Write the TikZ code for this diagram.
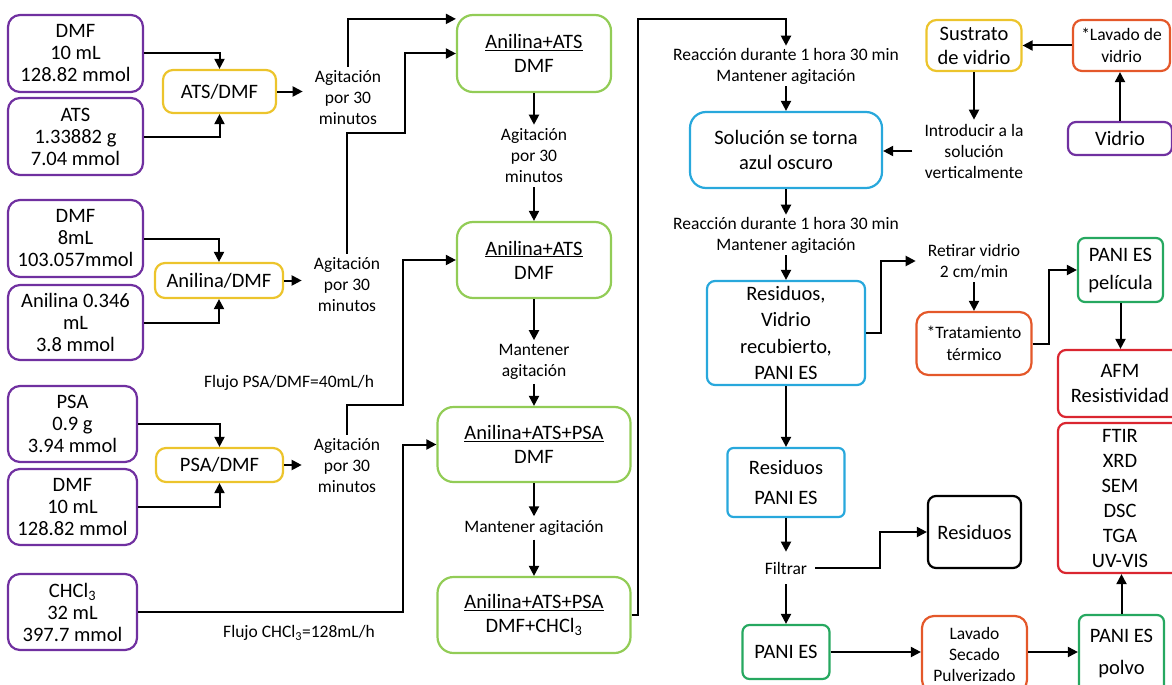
\documentclass[tikz,border=0pt]{standalone}
\usepackage{fontspec}
\setmainfont{Carlito}
\usepackage{xcolor}
\usepackage{tikz}
\usetikzlibrary{arrows.meta}

\definecolor{matviolet}{RGB}{112,48,160}
\definecolor{mixyellow}{RGB}{236,196,44}
\definecolor{mixgreen}{RGB}{146,204,86}
\definecolor{solblue}{RGB}{40,168,220}
\definecolor{procorange}{RGB}{228,88,42}
\definecolor{charred}{RGB}{218,38,48}
\definecolor{panigreen}{RGB}{38,168,96}

\begin{document}
\begin{tikzpicture}[x=1pt, y=-1pt,
font=\fontsize{20.5}{22}\selectfont,
box/.style={rectangle, rounded corners=10pt, line width=2.2pt, align=center, inner sep=2pt},
reagent/.style={box, draw=matviolet, rounded corners=12pt},
premix/.style={box, draw=mixyellow},
mixture/.style={box, draw=mixgreen, rounded corners=16pt, font=\fontsize{20.5}{24}\selectfont},
stage/.style={box, draw=solblue},
process/.style={box, draw=procorange, rounded corners=12pt, font=\fontsize{17.5}{22}\selectfont},
product/.style={box, draw=panigreen, rounded corners=7pt},
analysis/.style={box, draw=charred, rounded corners=8pt, font=\fontsize{20.5}{25}\selectfont},
waste/.style={box, draw=black, rounded corners=8pt},
cond/.style={align=center, inner xsep=12pt, inner ysep=4pt, font=\fontsize{17.5}{21}\selectfont},
flow/.style={line width=2pt, -{Triangle[length=10pt,width=10pt]}},
]
\useasboundingbox (0,0) rectangle (1172,685);
%Nodes
\node[reagent, minimum width=135pt, minimum height=77pt] (dmfA) at (75.5,53.5) {DMF\\10 mL\\128.82 mmol};
\node[reagent, minimum width=135pt, minimum height=77pt] (ats) at (75.5,136.5) {ATS\\1.33882 g\\7.04 mmol};
\node[reagent, minimum width=135pt, minimum height=77pt] (dmfB) at (75.5,238.5) {DMF\\8mL\\103.057mmol};
\node[reagent, minimum width=135pt, minimum height=75pt] (anil) at (75.5,322.5) {Anilina 0.346\\mL\\3.8 mmol};
\node[reagent, minimum width=129pt, minimum height=76pt] (psa) at (72.5,424) {PSA\\0.9 g\\3.94 mmol};
\node[reagent, minimum width=129pt, minimum height=76pt] (dmfC) at (72.5,507) {DMF\\10 mL\\128.82 mmol};
\node[reagent, minimum width=129pt, minimum height=76pt] (chcl) at (72.5,612) {CHCl\textsubscript{3}\\32 mL\\397.7 mmol};

\node[premix, minimum width=113pt, minimum height=43pt] (atsdmf) at (219.5,91.5) {ATS/DMF};
\node[premix, minimum width=128pt, minimum height=35pt] (anildmf) at (219,280.5) {Anilina/DMF};
\node[premix, minimum width=127pt, minimum height=34pt] (psadmf) at (219.5,465) {PSA/DMF};

\node[cond] (agA) at (348,98) {Agitación\\por 30\\minutos};
\node[cond] (agB) at (347,285) {Agitación\\por 30\\minutos};
\node[cond] (agC) at (347,466) {Agitación\\por 30\\minutos};
\node[cond] (fluA) at (289,383) {Flujo PSA/DMF=40mL/h};
\node[cond] (fluB) at (299,633) {Flujo CHCl\textsubscript{3}=128mL/h};

\node[mixture, minimum width=154pt, minimum height=77pt] (mixA) at (534,53.5) {\underline{Anilina+ATS}\\DMF};
\node[cond] (agD) at (534,156) {Agitación\\por 30\\minutos};
\node[mixture, minimum width=154pt, minimum height=76pt] (mixB) at (534,260) {\underline{Anilina+ATS}\\DMF};
\node[cond] (manA) at (534,362) {Mantener\\agitación};
\node[mixture, minimum width=193pt, minimum height=75pt] (mixC) at (534,444.5) {\underline{Anilina+ATS+PSA}\\DMF};
\node[cond] (manB) at (534,528) {Mantener agitación};
\node[mixture, minimum width=193pt, minimum height=76pt] (mixD) at (534,615) {\underline{Anilina+ATS+PSA}\\DMF+CHCl\textsubscript{3}};

\node[cond, inner ysep=2pt] (reacA) at (786,66) {Reacción durante 1 hora 30 min\\Mantener agitación};
\node[stage, minimum width=192pt, minimum height=76pt, rounded corners=16pt, font=\fontsize{20.5}{25}\selectfont] (sol) at (786,150) {Solución se torna\\azul oscuro};
\node[cond, inner ysep=2pt] (reacB) at (786,235) {Reacción durante 1 hora 30 min\\Mantener agitación};
\node[premix, minimum width=95pt, minimum height=51pt, font=\fontsize{20.5}{24}\selectfont] (sust) at (974,45.5) {Sustrato\\de vidrio};
\node[process, minimum width=97pt, minimum height=51pt, rounded corners=9pt] (lavv) at (1121.5,45.5) {*Lavado de\\vidrio};
\node[reagent, minimum width=104pt, minimum height=33pt, rounded corners=8pt] (vid) at (1120,138.5) {Vidrio};
\node[cond] (intro) at (974,151) {Introducir a la\\solución\\verticalmente};

\node[stage, minimum width=158pt, minimum height=104pt, rounded corners=8pt, font=\fontsize{20.5}{26.5}\selectfont] (resA) at (786,333) {Residuos,\\Vidrio\\recubierto,\\PANI ES};
\node[cond] (ret) at (974,261) {Retirar vidrio\\2 cm/min};
\node[process, minimum width=115pt, minimum height=63pt] (trat) at (974,343.5) {*Tratamiento\\térmico};
\node[product, minimum width=85pt, minimum height=64pt, font=\fontsize{20.5}{28}\selectfont] (pel) at (1120.5,270) {PANI ES\\película};
\node[analysis, minimum width=124pt, minimum height=67pt] (afm) at (1120,383.5) {AFM\\Resistividad};
\node[analysis, minimum width=124pt, minimum height=150pt] (ftir) at (1120,498) {FTIR\\XRD\\SEM\\DSC\\TGA\\UV-VIS};

\node[stage, minimum width=117pt, minimum height=69pt, rounded corners=6pt, font=\fontsize{20.5}{30}\selectfont] (resB) at (786,482.5) {Residuos\\PANI ES};
\node[cond, inner xsep=8pt, inner ysep=10pt] (filt) at (786,568) {Filtrar};
\node[waste, minimum width=93pt, minimum height=72pt] (resC) at (974.5,532) {Residuos};
\node[product, minimum width=87pt, minimum height=54pt] (paniA) at (786,652) {PANI ES};
\node[process, minimum width=105pt, minimum height=76pt, font=\fontsize{17.5}{21}\selectfont] (lsp) at (974.5,654) {Lavado\\Secado\\Pulverizado};
\node[product, minimum width=85pt, minimum height=77pt, font=\fontsize{20.5}{32}\selectfont] (polvo) at (1121.5,653.5) {PANI ES\\polvo};

\coordinate (jA) at (405,133);
\coordinate (jB) at (403,405);
\coordinate (jD) at (638,19);

%Lines
\draw[flow] (dmfA.east) -| (atsdmf.north);
\draw[flow] (ats.east) -| (atsdmf.south);
\draw[flow] (dmfB.east) -| (anildmf.north);
\draw[flow] (anil.east) -| (anildmf.south);
\draw[flow] (psa.east) -| (psadmf.north);
\draw[flow] (dmfC.east) -| (psadmf.south);
\draw[flow] (atsdmf.east) -- (atsdmf.east -| agA.west);
\draw[flow] (anildmf.east) -- (anildmf.east -| agB.west);
\draw[flow] (psadmf.east) -- (psadmf.east -| agC.west);
\draw[flow] (agA.north) |- ([yshift=-5pt]mixA.north west);
\draw[flow] (agB.north) |- (jA) |- (mixA.west);
\draw[flow] (agC.north) |- (jB) |- (mixB.west);
\draw[flow] (chcl.east) -- (chcl.east -| jB) |- (mixC.west);
\draw[flow] (mixA.south) -- (agD.north);
\draw[flow] (agD.south) -- (mixB.north);
\draw[flow] (mixB.south) -- (manA.north);
\draw[flow] (manA.south) -- (mixC.north);
\draw[flow] (mixC.south) -- (manB.north);
\draw[flow] (manB.south) -- (mixD.north);
\draw[flow] (mixD.east) -| (jD) -| (reacA.north);
\draw[flow] (reacA.south) -- (sol.north);
\draw[flow] (sol.south) -- (reacB.north);
\draw[flow] (reacB.south) -- (resA.north);
\draw[flow] (lavv.west) -- (sust.east);
\draw[flow] (vid.north) -- (vid.north |- lavv.south);
\draw[flow] (sust.south) -- (intro.north);
\draw[flow] (intro.west) -- (intro.west -| sol.east);
\draw[flow] (resA.east) -- ++(15,0) |- (ret.west);
\draw[flow] (ret.south) -- (trat.north);
\draw[flow] (trat.east) -- ++(16,0) |- (pel.west);
\draw[flow] (pel.south) -- (pel.south |- afm.north);
\draw[flow] (resA.south) -- (resB.north);
\draw[flow] (resB.south) -- (filt.north);
\draw[flow] (filt.east) -- ++(65,0) |- (resC.west);
\draw[flow] (filt.south) -- (paniA.north);
\draw[flow] (paniA.east) -- (paniA.east -| lsp.west);
\draw[flow] (lsp.east |- paniA.east) -- (paniA.east -| polvo.west);
\draw[flow] (polvo.north) -- (polvo.north |- ftir.south);
\end{tikzpicture}
\end{document}
